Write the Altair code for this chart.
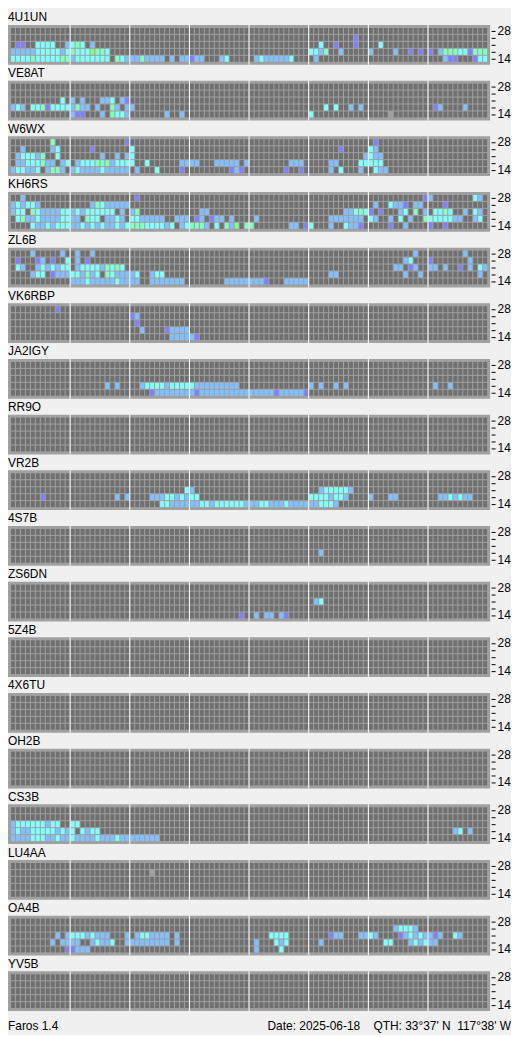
import altair as alt
import pandas as pd

STATIONS = ["4U1UN", "VE8AT", "W6WX", "KH6RS", "ZL6B", "VK6RBP", "JA2IGY", "RR9O", "VR2B",
            "4S7B", "ZS6DN", "5Z4B", "4X6TU", "OH2B", "CS3B", "LU4AA", "OA4B", "YV5B"]
BANDS = ["28", "24", "21", "18", "14"]          # top row first
N_SLOTS = 96                                     # 15-minute slots over 24 h
HOUR_MARKS = [12, 24, 36, 48, 60, 72, 84]        # slot index of each 3-hour divider

# signal levels: '.' none, 'x' heard/no data, 'v' weak ... 'G' strongest
LEVELS = [".", "x", "v", "b", "c", "g", "G"]
LEVEL_COLORS = ["#707070", "#a0a0a0", "#8080ff", "#80c0ff", "#80ffff", "#80ffc0", "#80ff80"]

# observations per station: one run-string per band ("start:levels ...")
OBS_4U1UN = ["",
             "69:v",
             "1:vv 5:cccc 11:bcgc 16:b 62:c 65:v 69:v 74:c",
             "0:bbbbbcccccbc 12:gcccGggc 60:ccbg 66:b 72:b 77:b 80:v 82:v 84:v 86:bgggccvggg",
             "0:ccccgccccc 10:ggbccccccc 21:gcbbbgbbbb 32:b 34:bbvbb 42:bc 49:bcbbbbbc 61:b 87:bvv 93:vcc"]
OBS_VE8AT = ["",
             "",
             "10:c 12:b 14:b 18:bbc 22:bv",
             "0:bcb 4:ccgvccccbgbb 17:b 20:gb 23:bb 63:c 65:c 68:b 70:b 85:vb 91:b",
             "12:bvv 18:b 20:gccb 31:b 34:b 60:c 76:x"]
OBS_W6WX = ["8:g 23:v 73:v",
            "2:b 8:bc 16:v 24:c 66:v 72:cb",
            "1:bcccbg 9:c 18:b 21:b 23:bc 71:bcbb",
            "1:bbcccgbb 10:bc 13:bcccgggbcccc 27:c 34:bbbb 41:bbbbb 47:b 56:bbb 64:bb 70:ccccc",
            "0:bccbbc 7:bggb 12:bcbbbbcbbbbb 25:b 29:c 34:v 44:vbv 55:v 58:v 64:b 66:c 70:b 73:cbb"]
OBS_KH6RS = ["2:b 25:v 83:vb 93:cb",
             "0:bcbccb 16:bgcbbbbb 73:b 76:cbbv 81:bb 87:v",
             "0:bcc 4:gcbbbbccbcbcccccc 22:b 24:bg 38:bb 67:bbcgcv 74:v 78:bc 81:g 83:b 85:ccgc 91:b 93:cb",
             "1:cgbbcbbbbccbb 15:gcc 19:bbcb 24:ccbbbbb 33:bbb 37:vb 40:vbb 44:b 49:b 64:bbbbbbb 72:cb 76:b 78:c 80:b 83:gcccccbb 93:bc",
             "4:cbbcbcccbbcbcbcbbcbcgggccccbc 34:bcgggb 41:c 43:gbG 47:gg 56:bb 59:vc 64:b 67:cbbv 76:v 79:b 84:v 87:v"]
OBS_ZL6B = ["4:b 10:b 13:b 16:b 81:b 91:b",
            "1:v 5:vb 8:v 11:c 13:b 15:v 79:bc 84:v 92:b",
            "1:cb 5:bcbcbcc 13:bccccbgcgc 77:bb 80:vb 84:bb 87:b 90:v 92:b 94:cb",
            "4:bcc 8:vbbbccbgbc 19:gcbbbbc 28:bcc 64:bb 79:b 82:b 94:b",
            "12:bbbcbbbbbcbbbb 28:bbbbbbb 43:bbbbbbbbv 55:bbbbb"]
OBS_VK6RBP = ["9:v",
              "24:vb",
              "25:v",
              "26:b 31:vbbbb",
              "32:bbbbbv"]
OBS_JA2IGY = ["",
              "",
              "",
              "19:b 21:b 26:bccccbcccccbbbbbbbbb 60:b 62:b 65:b 67:b 85:b 88:b",
              "28:vbbbbbbbbvbbbbbbbbbbbbbbbvbbbbbv 58:b"]
OBS_RR9O = ["", "", "", "", ""]
OBS_VR2B = ["",
            "",
            "35:cb 62:bcccccb",
            "6:v 21:b 23:b 28:bbbccbcbcc 60:ccccbccb 72:b 76:bb 86:bbcbcbb",
            "30:ccbbbbbbccbccccccbbbccbbbcbbbbb 61:bcccb"]
OBS_4S7B = ["", "", "", "62:b", ""]
OBS_ZS6DN = ["", "", "61:bc", "", "46:v 49:b 51:bb 54:bv"]
OBS_5Z4B = ["", "", "", "", ""]
OBS_4X6TU = ["", "", "", "", ""]
OBS_OH2B = ["", "", "", "", ""]
OBS_CS3B = ["",
            "",
            "0:bccccccbcc 12:cc",
            "0:bcbbcccccbcbc 14:cbcc 89:bc 92:b",
            "0:bbbbcccbbcbbcbbbbcbbbcbbbbbbbb"]
OBS_LU4AA = ["", "28:x", "", "", ""]
OBS_OA4B = ["",
            "77:bcccb",
            "9:b 11:bcccbcbbb 23:b 25:bccbbbb 33:b 52:cccc 64:vbb 70:bbcb 78:vbcbcbbvb 89:cb",
            "8:b 10:bbbb 16:bcbbc 23:bbbbbbbbb 33:b 49:b 53:cbc 62:b 75:cc 80:bcbcbb",
            "11:vvbbb 49:b 54:c"]
OBS_YV5B = ["", "", "", "", ""]

OBSERVATIONS = [OBS_4U1UN, OBS_VE8AT, OBS_W6WX, OBS_KH6RS, OBS_ZL6B, OBS_VK6RBP, OBS_JA2IGY,
                OBS_RR9O, OBS_VR2B, OBS_4S7B, OBS_ZS6DN, OBS_5Z4B, OBS_4X6TU, OBS_OH2B,
                OBS_CS3B, OBS_LU4AA, OBS_OA4B, OBS_YV5B]

FOOTER_LEFT = "Faros 1.4"
FOOTER_RIGHT = "Date: 2025-06-18\u00a0\u00a0\u00a0\u00a0QTH: 33°37' N\u00a0\u00a0117°38' W"

FONT = "Liberation Sans Narrow, Liberation Sans, Arial, sans-serif"


def expand(runs):
    slots = ["."] * N_SLOTS
    for tok in runs.split():
        start, codes = tok.split(":")
        for i, ch in enumerate(codes):
            slots[int(start) + i] = ch
    return slots


x_scale = alt.Scale(domain=[-0.6, N_SLOTS + 0.4], nice=False, zero=False)


def panel(name, obs):
    recs = []
    for band, runs in zip(BANDS, obs):
        for i, ch in enumerate(expand(runs)):
            recs.append({"slot": i, "band": band, "level": ch})
    df = pd.DataFrame(recs)
    cells = alt.Chart(df).mark_rect().encode(
        x=alt.X("slot:Q", scale=x_scale, axis=None),
        x2="slot_end:Q",
        y=alt.Y("band:O",
                scale=alt.Scale(domain=BANDS, paddingInner=0.15, paddingOuter=0.35, round=True),
                axis=alt.Axis(orient="right", title=None, domain=False, ticks=True, tickSize=4,
                              tickColor="black", tickWidth=1, offset=1, labelPadding=2,
                              labelFontSize=12, labelFont=FONT, labelColor="black",
                              labelExpr="datum.value == '28' || datum.value == '14' ? datum.value : ''")),
        color=alt.Color("level:N", scale=alt.Scale(domain=LEVELS, range=LEVEL_COLORS), legend=None),
    ).transform_calculate(slot_end="datum.slot + 0.8")
    seps = alt.Chart(pd.DataFrame({"slot": HOUR_MARKS})).mark_rule(
        color="white", strokeWidth=1
    ).encode(
        x=alt.X("sep:Q", scale=x_scale, axis=None)
    ).transform_calculate(sep="datum.slot - 0.1")
    return alt.layer(cells, seps).properties(
        width=485, height=40,
        title=alt.TitleParams(name, anchor="start", fontSize=12, font=FONT, fontWeight="normal",
                              color="black", offset=0),
        view=alt.ViewBackground(fill="#a0a0a0", stroke=None),
    )


panels = [panel(n, o) for n, o in zip(STATIONS, OBSERVATIONS)]

footer_base = alt.Chart(pd.DataFrame({"left": [FOOTER_LEFT], "right": [FOOTER_RIGHT]}))
footer = alt.layer(
    footer_base.mark_text(align="left", baseline="middle", font=FONT, fontSize=12, color="black")
    .encode(text="left:N", x=alt.value(0), y=alt.value(13)),
    footer_base.mark_text(align="right", baseline="middle", font=FONT, fontSize=12, color="black")
    .encode(text="right:N", x=alt.value(506), y=alt.value(13)),
).properties(width=485, height=18, view=alt.ViewBackground(fill=None, stroke=None))

chart = alt.vconcat(*panels, footer, spacing=1).properties(
    background="#f0f0f0", padding=0
)

chart.save("out.html", embed_options={"renderer": "svg", "actions": False})
